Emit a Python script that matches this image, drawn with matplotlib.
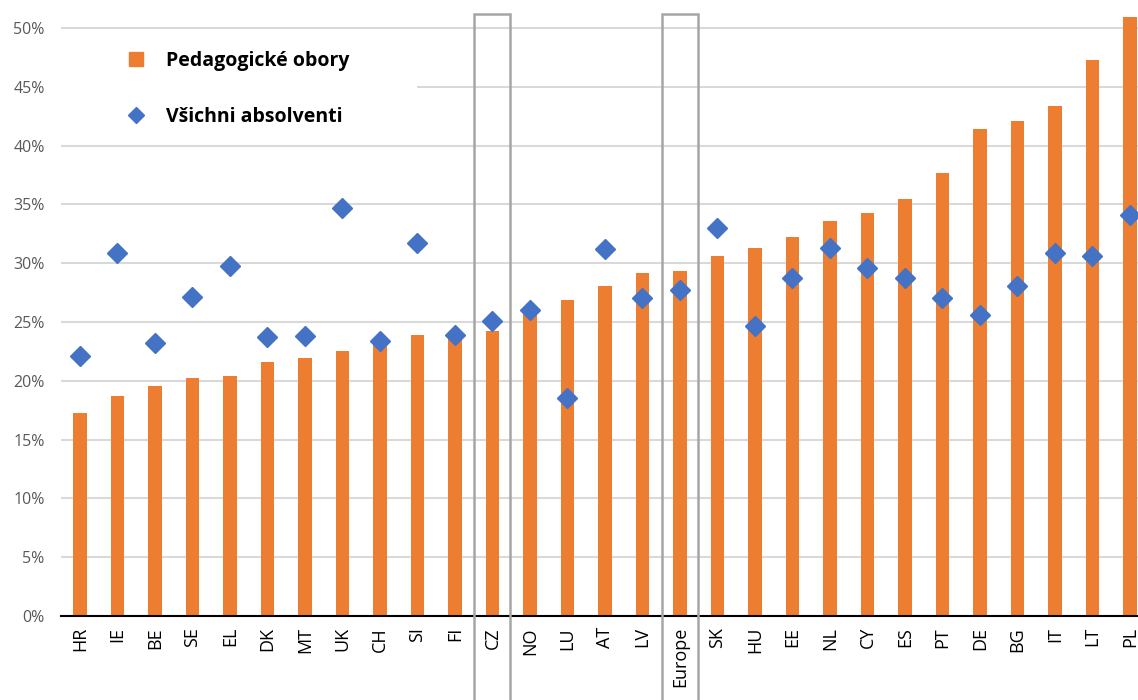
import matplotlib.pyplot as plt
from matplotlib.patches import Rectangle
from matplotlib.lines import Line2D
from matplotlib.ticker import PercentFormatter

plt.rcParams['font.family'] = ['Open Sans', 'DejaVu Sans']

countries = ['HR', 'IE', 'BE', 'SE', 'EL', 'DK', 'MT', 'UK', 'CH', 'SI', 'FI', 'CZ',
             'NO', 'LU', 'AT', 'LV', 'Europe', 'SK', 'HU', 'EE', 'NL', 'CY', 'ES',
             'PT', 'DE', 'BG', 'IT', 'LT', 'PL']
pedagogicke = [17.3, 18.7, 19.6, 20.2, 20.4, 21.6, 21.9, 22.5, 23.3, 23.9, 24.0, 24.2,
               26.0, 26.9, 28.1, 29.2, 29.3, 30.6, 31.3, 32.2, 33.6, 34.3, 35.5,
               37.7, 41.4, 42.1, 43.4, 47.3, 50.9]
vsichni = [22.1, 30.9, 23.2, 27.1, 29.8, 23.7, 23.8, 34.7, 23.4, 31.7, 23.9, 25.1,
           26.0, 18.5, 31.2, 27.0, 27.7, 33.0, 24.7, 28.7, 31.3, 29.6, 28.7,
           27.0, 25.6, 28.1, 30.9, 30.6, 34.1]
highlighted = ['CZ', 'Europe']

orange = '#ED7D31'
blue = '#4472C4'

fig = plt.figure(figsize=(11.38, 7), dpi=100)
ax = fig.add_axes([0.0538, 0.12, 0.9556, 0.8736])

x = range(len(countries))
ax.bar(x, pedagogicke, width=0.36, color=orange, zorder=2)
ax.plot(x, vsichni, 'D', color=blue, markersize=10.5, zorder=3, linestyle='none')

# boxes around CZ and Europe
for name in highlighted:
    i = countries.index(name)
    ax.add_patch(Rectangle((i - 0.48, -10), 0.96, 51.2 + 10, fill=False,
                           edgecolor='#A6A6A6', lw=1.8, clip_on=False, zorder=4))

ax.set_xlim(-0.5, len(countries) - 0.5)
ax.set_ylim(0, 52)
ax.set_yticks(range(0, 51, 5))
ax.yaxis.set_major_formatter(PercentFormatter(decimals=0))
ax.grid(axis='y', color='#D9D9D9', lw=1.5, zorder=0)
ax.set_axisbelow(True)

ax.set_xticks(list(x))
ax.set_xticklabels(countries, rotation=90, fontsize=13, color='black')
ax.tick_params(axis='y', labelsize=11.5, labelcolor='#595959', length=0, pad=12)
ax.tick_params(axis='x', length=0, pad=8)

for s in ['top', 'right', 'left']:
    ax.spines[s].set_visible(False)
ax.spines['bottom'].set_color('black')
ax.spines['bottom'].set_linewidth(1.5)

# white background of the legend area, hides the 45% gridline
ax.add_patch(Rectangle((-0.5, 41), 9.5, 8, facecolor='white', edgecolor='none', zorder=1))

handles = [Line2D([], [], marker='s', color=orange, linestyle='none', markersize=10),
           Line2D([], [], marker='D', color=blue, linestyle='none', markersize=8)]
leg = ax.legend(handles, ['Pedagogické obory', 'Všichni absolventi'],
                loc='upper left', bbox_to_anchor=(117 / 1138, 1 - 51 / 700),
                bbox_transform=fig.transFigure, frameon=False,
                prop={'weight': 'bold', 'size': 14}, labelspacing=1.85,
                handletextpad=0.5, borderpad=0.0, borderaxespad=0.0)
leg.set_zorder(5)

fig.savefig('out.png', dpi=100)
plt.close(fig)
